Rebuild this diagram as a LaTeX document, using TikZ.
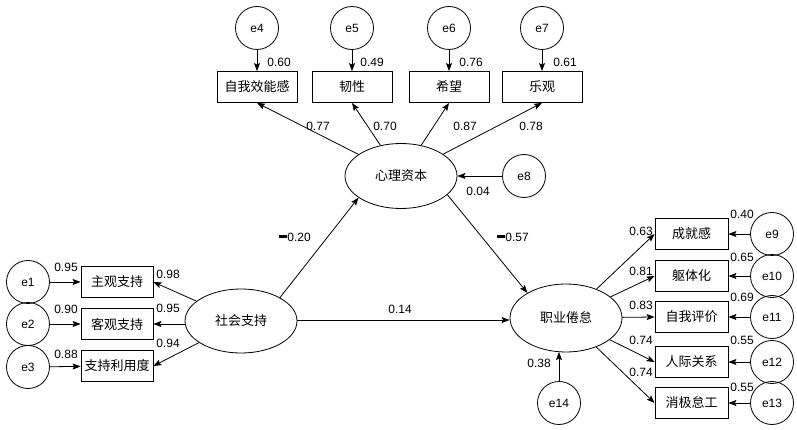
\documentclass[tikz,border=0pt]{standalone}
\usepackage{fontspec}
\setmainfont{Liberation Sans}
\newfontfamily\cjk{Noto Sans CJK SC}
\usetikzlibrary{shapes.geometric,arrows.meta}
\begin{document}
\begin{tikzpicture}[x=1pt,y=-1pt,line width=0.8pt,
 box/.style={draw,rectangle,minimum height=31pt,inner sep=0pt,font=\cjk\fontsize{13}{15}\selectfont},
 err/.style={draw,circle,minimum size=43pt,inner sep=0pt,font=\fontsize{12}{14}\selectfont},
 lat/.style={draw,ellipse,minimum width=112pt,inner sep=0pt,font=\cjk\fontsize{13}{15}\selectfont},
 num/.style={font=\fontsize{12}{14}\selectfont,inner sep=0pt},
 arr/.style={-{Stealth[length=8pt,width=6pt,inset=1.5pt]},line width=0.8pt}]
\useasboundingbox (0,0) rectangle (797,430);
\newcommand{\negsign}{\rule[3.5pt]{8pt}{2.2pt}}
% latent variables
\node[lat,minimum height=65pt] (psy) at (401,176) {心理资本};
\node[lat,minimum height=64pt] (sas) at (241,321) {社会支持};
\node[lat,minimum height=68pt] (jy) at (566,318) {职业倦怠};
% top indicators
\node[box,minimum width=80pt] (b4) at (257,87) {自我效能感};
\node[box,minimum width=80pt] (b5) at (352,87) {韧性};
\node[box,minimum width=80pt] (b6) at (449,87) {希望};
\node[box,minimum width=80pt] (b7) at (542,87) {乐观};
\node[err] (e4) at (257,28) {e4};
\node[err] (e5) at (352,28) {e5};
\node[err] (e6) at (449,28) {e6};
\node[err] (e7) at (542,28) {e7};
\foreach \i in {4,5,6,7} {\draw[arr] (e\i) -- (b\i);}
\node[num,anchor=west] at (267,62) {0.60};
\node[num,anchor=west] at (360,62) {0.49};
\node[num,anchor=west] at (459,62) {0.76};
\node[num,anchor=west] at (553,62) {0.61};
\foreach \i in {4,5,6,7} {\draw[arr] (psy) -- (b\i.south);}
\node[num] at (318,126) {0.77};
\node[num] at (385,126) {0.70};
\node[num] at (465,126) {0.87};
\node[num] at (531,126) {0.78};
% e8
\node[err] (e8) at (524,176) {e8};
\draw[arr] (e8) -- (psy);
\node[num] at (478,191) {0.04};
% left indicators
\node[box,minimum width=72pt] (b1) at (117,282) {主观支持};
\node[box,minimum width=72pt] (b2) at (117,324) {客观支持};
\node[box,minimum width=72pt] (b3) at (117,366) {支持利用度};
\node[err] (e1) at (28,282) {e1};
\node[err] (e2) at (28,324) {e2};
\node[err] (e3) at (28,367) {e3};
\foreach \i in {1,2,3} {\draw[arr] (e\i) -- (b\i);}
\draw[arr] (sas) -- (b1.east);
\draw[arr] (sas.west |- b2) -- (b2.east);
\draw[arr] (sas) -- (b3.east);
\node[num] at (66,267) {0.95};
\node[num] at (66,309) {0.90};
\node[num] at (66,354) {0.88};
\node[num] at (168,274) {0.98};
\node[num] at (168,308) {0.95};
\node[num] at (168,343) {0.94};
% structural paths
\draw[arr] (sas.31) -- (psy.207);
\draw[arr] (psy.-22) -- (jy.147);
\draw[arr] (sas.east |- 0,320) -- (jy.west |- 0,320);
\node[num,anchor=west] at (279,237) {\negsign0.20};
\node[num,anchor=west] at (497,237) {\negsign0.57};
\node[num] at (400,309) {0.14};
% right indicators
\node[box,minimum width=73pt] (b9) at (691.5,234) {成就感};
\node[box,minimum width=73pt] (b10) at (691.5,276) {躯体化};
\node[box,minimum width=73pt] (b11) at (691.5,317) {自我评价};
\node[box,minimum width=73pt] (b12) at (691.5,362) {人际关系};
\node[box,minimum width=73pt] (b13) at (691.5,403) {消极怠工};
\node[err] (e9) at (772,234) {e9};
\node[err] (e10) at (772,276) {e10};
\node[err] (e11) at (772,317) {e11};
\node[err] (e12) at (772,362) {e12};
\node[err] (e13) at (772,403) {e13};
\foreach \i in {9,10,11,12,13} {\draw[arr] (e\i) -- (b\i); \draw[arr] (jy) -- (b\i.west);}
\node[num] at (641,231) {0.63};
\node[num] at (641,271) {0.81};
\node[num] at (641,305) {0.83};
\node[num] at (641,340) {0.74};
\node[num] at (641,372) {0.74};
\node[num] at (742,214) {0.40};
\node[num] at (742,257) {0.65};
\node[num] at (742,297) {0.69};
\node[num] at (742,340) {0.55};
\node[num] at (742,387) {0.55};
% e14
\node[err] (e14) at (559,403) {e14};
\coordinate (j14) at (559,352);
\draw[arr] (e14) -- (j14);
\node[num] at (539,363) {0.38};
\end{tikzpicture}
\end{document}
